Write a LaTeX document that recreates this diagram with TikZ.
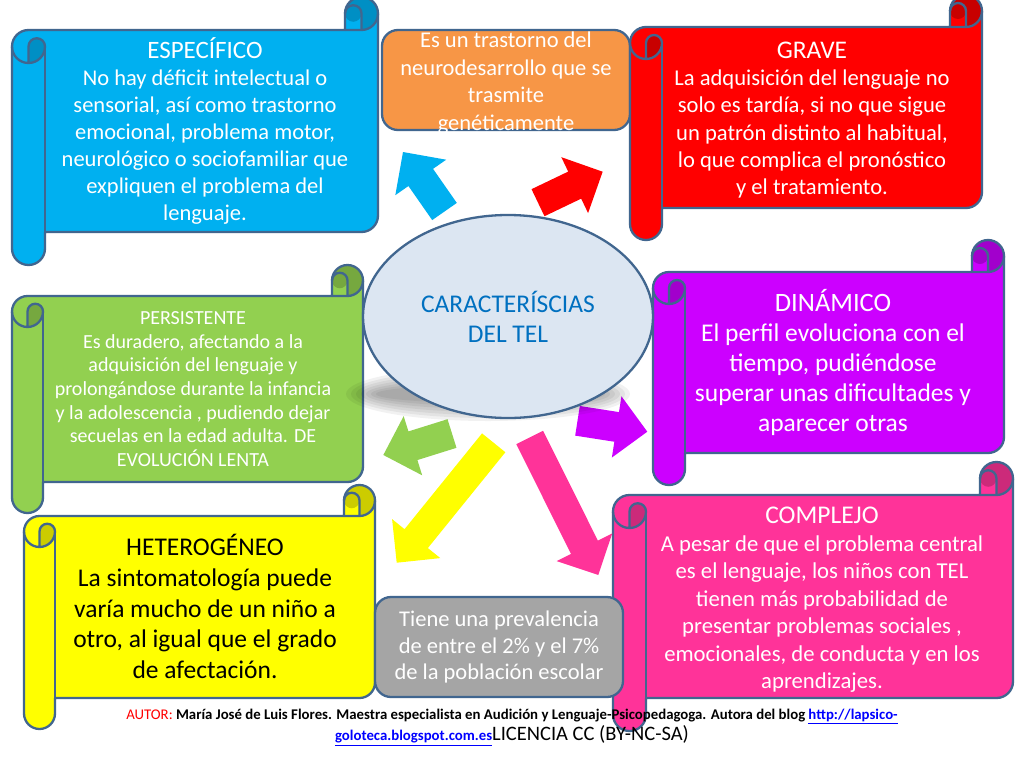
\documentclass[tikz,border=0pt]{standalone}
\usepackage{fontspec}
\setmainfont{Carlito}
\usetikzlibrary{shapes.geometric}
\definecolor{outl}{HTML}{41668F}
\definecolor{cyanM}{HTML}{00B0F0}\definecolor{cyanD}{HTML}{008FC4}
\definecolor{redM}{HTML}{FF0000}\definecolor{redD}{HTML}{C80000}
\definecolor{greenM}{HTML}{92D050}\definecolor{greenD}{HTML}{76A83F}
\definecolor{purpM}{HTML}{CC00FF}\definecolor{purpD}{HTML}{A200CC}
\definecolor{yelM}{HTML}{FFFF00}\definecolor{yelD}{HTML}{CCCC00}
\definecolor{pinkM}{HTML}{FF3399}\definecolor{pinkD}{HTML}{CC2A7A}
\definecolor{orangeM}{HTML}{F79646}
\definecolor{greyM}{HTML}{A5A5A5}
\definecolor{ellM}{HTML}{DCE6F2}
\definecolor{elltext}{HTML}{0070C0}
\definecolor{autred}{HTML}{FF0000}
\definecolor{linkblue}{HTML}{0000FF}
% scroll: left, top, right, bottom, curl size, fill, dark fill
\newcommand\tscroll[7]{%
  \pgfmathsetmacro\scL{#1}\pgfmathsetmacro\scT{#2}%
  \pgfmathsetmacro\scR{#3}\pgfmathsetmacro\scB{#4}%
  \pgfmathsetmacro\scC{#5}\pgfmathsetmacro\scH{#5/2}\pgfmathsetmacro\scQ{#5/4}%
  \fill[#6] (\scL,\scT+1.5*\scC) arc[start angle=180, delta angle=90, radius=\scH]
    -- (\scR-\scC,\scT+\scC) -- (\scR-\scC,\scT+\scH)
    arc[start angle=180, delta angle=180, radius=\scH]
    -- (\scR,\scB-1.5*\scC) arc[start angle=0, delta angle=90, radius=\scH]
    -- (\scL+\scC,\scB-\scC) -- (\scL+\scC,\scB-\scH)
    arc[start angle=0, delta angle=180, radius=\scH] -- cycle;
  \fill[#7] (\scL+\scH,\scT+2*\scC) arc[start angle=90, delta angle=-90, radius=\scH]
    arc[start angle=0, delta angle=-180, radius=\scQ] -- cycle;
  \fill[#7] (\scR-\scH,\scT+\scC) arc[start angle=90, delta angle=-270, radius=\scH]
    arc[start angle=180, delta angle=-180, radius=\scQ] -- cycle;
  \draw[scrollline] (\scL,\scT+1.5*\scC) arc[start angle=180, delta angle=90, radius=\scH]
    -- (\scR-\scC,\scT+\scC) -- (\scR-\scC,\scT+\scH)
    arc[start angle=180, delta angle=180, radius=\scH]
    -- (\scR,\scB-1.5*\scC) arc[start angle=0, delta angle=90, radius=\scH]
    -- (\scL+\scC,\scB-\scC) -- (\scL+\scC,\scB-\scH)
    arc[start angle=0, delta angle=180, radius=\scH] -- cycle;
  \draw[scrollline] (\scR-\scC,\scT+\scC) -- (\scR-\scH,\scT+\scC)
    arc[start angle=90, delta angle=-90, radius=\scH];
  \draw[scrollline] (\scR-\scH,\scT+\scC) -- (\scR-\scH,\scT+\scH)
    arc[start angle=0, delta angle=-180, radius=\scQ];
  \draw[scrollline] (\scL+\scH,\scT+2*\scC) -- (\scL+\scH,\scT+1.5*\scC)
    arc[start angle=180, delta angle=180, radius=\scQ]
    arc[start angle=0, delta angle=180, radius=\scH];
  \draw[scrollline] (\scL+\scC,\scT+1.5*\scC) -- (\scL+\scC,\scB-\scC);
}
% block arrow: colour, tail x, tail y, tip x, tip y
\newcommand\blockarr[5]{%
  \pgfmathsetmacro\arA{atan2(#3-#5,#4-#2)}%
  \pgfmathsetmacro\arL{veclen(#4-#2,#5-#3)}%
  \begin{scope}[shift={(#2,#3)},rotate=\arA]
    \fill[#1] (0,-15) -- (\arL-31,-15) -- (\arL-31,-31) -- (\arL,0)
      -- (\arL-31,31) -- (\arL-31,15) -- (0,15) -- cycle;
  \end{scope}}
\newcommand\ttl[2]{{\fontsize{#1}{10}\selectfont #2}}
\begin{document}
\begin{tikzpicture}[x=1pt,y=-1pt,
  scrollline/.style={draw=outl, line width=2.3pt, line join=round},
  txt/.style={align=center, inner sep=0pt},
  rbox/.style={draw=outl, line width=2.3pt, rounded corners=16pt, inner sep=0pt}]
\useasboundingbox (0,0) rectangle (1015,761);
\fill[white] (0,0) rectangle (1015,761);

% scrolls
\tscroll{12}{-3}{378}{265}{33}{cyanM}{cyanD}
\node[txt, text=white, font=\fontsize{22.5}{27}\selectfont] (especifico) at (205,131)
  {\ttl{25}{ESPECÍFICO}\\No hay déficit intelectual o\\sensorial, así como trastorno\\emocional, problema motor,\\neurológico o sociofamiliar que\\expliquen el problema del\\lenguaje.};

\node[rbox, fill=orangeM, minimum width=248pt, minimum height=100pt] (genbox) at (506,80) {};
\node[txt, text=white, font=\fontsize{22.5}{27.5}\selectfont] (gentxt) at (506,83)
  {Es un trastorno del\\neurodesarrollo que se\\trasmite\\genéticamente};

\tscroll{630}{-5}{982}{240}{32}{redM}{redD}
\node[txt, text=white, font=\fontsize{22.6}{27.2}\selectfont] (grave) at (812,120)
  {\ttl{25.4}{GRAVE}\\La adquisición del lenguaje no\\solo es tardía, si no que sigue\\un patrón distinto al habitual,\\lo que complica el pronóstico\\y el tratamiento.};

\tscroll{12}{265}{363}{513}{31}{greenM}{greenD}
\node[txt, text=white, font=\fontsize{20}{23.7}\selectfont] (persistente) at (193,389)
  {PERSISTENTE\\Es duradero, afectando a la\\adquisición del lenguaje y\\prolongándose durante la infancia\\y la adolescencia , pudiendo dejar\\secuelas en la edad adulta. DE\\EVOLUCIÓN LENTA};

\tscroll{653}{240}{1004}{485}{32}{purpM}{purpD}
\node[txt, text=white, font=\fontsize{25.5}{30.2}\selectfont] (dinamico) at (833,362.5)
  {\ttl{26.5}{DINÁMICO}\\El perfil evoluciona con el\\tiempo, pudiéndose\\superar unas dificultades y\\aparecer otras};

\tscroll{24}{485}{375}{729}{31}{yelM}{yelD}
\node[txt, text=black, font=\fontsize{25.5}{30.7}\selectfont] (heterogeneo) at (205,606.5)
  {\ttl{25.5}{HETEROGÉNEO}\\La sintomatología puede\\varía mucho de un niño a\\otro, al igual que el grado\\de afectación.};

\tscroll{613}{462}{1013}{731}{33}{pinkM}{pinkD}
\node[txt, text=white, font=\fontsize{22.7}{27.5}\selectfont] (complejo) at (822,600)
  {\ttl{25.5}{COMPLEJO}\\A pesar de que el problema central\\es el lenguaje, los niños con TEL\\tienen más probabilidad de\\presentar problemas sociales ,\\emocionales, de conducta y en los\\aprendizajes.};

\node[rbox, fill=greyM, minimum width=248pt, minimum height=100pt] (prevbox) at (499,647) {};
\node[txt, text=white, font=\fontsize{22.5}{26.7}\selectfont] (prevtxt) at (499,647)
  {Tiene una prevalencia\\de entre el 2\% y el 7\%\\de la población escolar};

% arrows
\blockarr{cyanM}{444.5}{211.5}{403}{152}
\blockarr{redM}{538}{202.7}{602.7}{171.7}
\blockarr{greenM}{452}{433.5}{383.3}{455}
\blockarr{purpM}{577.5}{420.8}{647.3}{431.7}
\blockarr{yelM}{493.7}{442.8}{396.7}{562.7}
\blockarr{pinkM}{529.7}{437.5}{598.3}{575}

% shadow and centre ellipse
\foreach \k in {0,...,6}
  \fill[black, opacity=0.055] (488,394) ellipse [x radius=142-5*\k, y radius=27-3*\k];
\node[ellipse, draw=outl, line width=2.3pt, fill=ellM, minimum width=290pt, minimum height=203pt, inner sep=0pt] (centre) at (508,316.5) {};
\node[txt, text=elltext, font=\fontsize{25.5}{29.5}\selectfont] (centretxt) at (508,317)
  {CARACTERÍSCIAS\\DEL TEL};

% footer
\node[txt, font=\fontsize{14.8}{21}\selectfont] (footer) at (512,727.5)
  {\textcolor{autred}{AUTOR:} \textbf{María José de Luis Flores. Maestra especialista en Audición y Lenguaje-Psicopedagoga. Autora del blog \textcolor{linkblue}{\underline{http://lapsico-}}}\\\textbf{\textcolor{linkblue}{\underline{goloteca.blogspot.com.es}}}{\fontsize{20.5}{21}\selectfont LICENCIA CC (BY-NC-SA)}};
\end{tikzpicture}
\end{document}
